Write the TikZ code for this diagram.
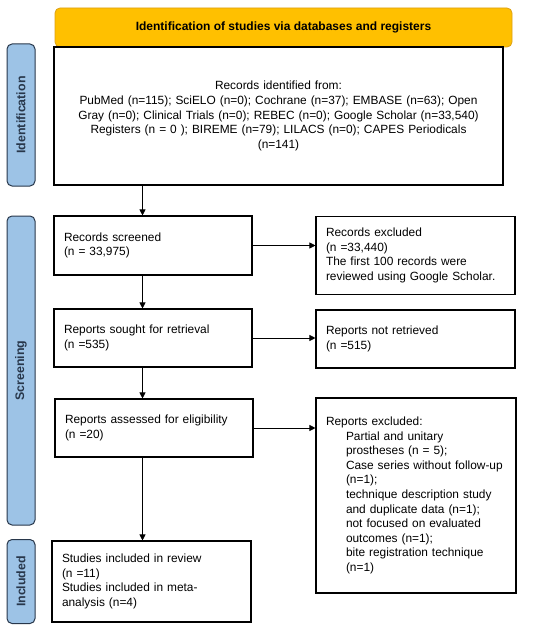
\documentclass[tikz,border=0pt]{standalone}
\usepackage{fontspec}
\setmainfont{Liberation Sans}
\usetikzlibrary{arrows.meta}
\definecolor{bannerfill}{RGB}{255,192,0}
\definecolor{bannerline}{RGB}{220,160,20}
\definecolor{barfill}{RGB}{157,195,230}
\definecolor{barline}{RGB}{40,55,75}
\tikzset{
  box/.style={shape=rectangle,draw,line width=1.1pt,align=left,inner sep=0pt,
    font=\fontsize{11.9}{14.6}\selectfont},
  bar/.style={shape=rectangle,rounded corners=5pt,draw=barline,fill=barfill,
    line width=1pt,rotate=90,minimum height=28pt,inner sep=0pt,
    text=barline,font=\fontsize{12.4}{13}\selectfont\bfseries},
}
\begin{document}
\begin{tikzpicture}[x=1pt,y=-1pt,>={Triangle[length=6pt,width=6pt]}]
\useasboundingbox (0,0) rectangle (550,631);
% heading and side bars
\path (283.5,27.5) node (head) [shape=rectangle,rounded corners=5pt,draw=bannerline,fill=bannerfill,line width=0.8pt,minimum width=457pt,minimum height=39pt,font=\fontsize{12}{13}\selectfont\bfseries] {Identification of studies via databases and registers};
\path (21,115) node (idbar) [bar,minimum width=142pt] {Identification};
\path (21,370.5) node (scbar) [bar,minimum width=309pt] {Screening};
\path (21,581.5) node (inbar) [bar,minimum width=84pt] {Included};
\coordinate (arrx) at (142.5,0);
% left column
\path (278.5,116) node (ident) [box,minimum width=449pt,minimum height=138pt,text width=449pt,align=center] {Records identified from:\\
PubMed (n=115); SciELO (n=0); Cochrane (n=37); EMBASE (n=63); Open\\
Gray (n=0); Clinical Trials (n=0); REBEC (n=0); Google Scholar (n=33,540)\\
Registers (n = 0 ); BIREME (n=79); LILACS (n=0); CAPES Periodicals\\
(n=141)};
\path (153,245.5) node (screen) [box,minimum width=198pt,minimum height=59pt,text width=178pt] {Records screened\\(n = 33,975)};
\path (153,338) node (sought) [box,minimum width=198pt,minimum height=58pt,text width=178pt] {Reports sought for retrieval\\(n =535)};
\path (154,428) node (assess) [box,minimum width=198pt,minimum height=58pt,text width=178pt] {Reports assessed for eligibility\\(n =20)};
\path (151.5,581.5) node (incl) [box,minimum width=199pt,minimum height=81pt,text width=179pt] {Studies included in review\\(n =11)\\Studies included in meta-\\analysis (n=4)};
% right column
\path (415.5,255.5) node (excl) [box,minimum width=199pt,minimum height=78pt,text width=179pt] {Records excluded\\(n =33,440)\\The first 100 records were\\reviewed using Google Scholar.};
\path (415.5,339) node (notret) [box,minimum width=199pt,minimum height=58pt,text width=179pt] {Reports not retrieved\\(n =515)};
\path (416,495.5) node (repexcl) [box,minimum width=200pt,minimum height=195pt,text width=180pt] {Reports excluded:\\
\hspace*{20pt}Partial and unitary\\
\hspace*{20pt}prostheses (n = 5);\\
\hspace*{20pt}Case series without follow-up\\
\hspace*{20pt}(n=1);\\
\hspace*{20pt}technique description study\\
\hspace*{20pt}and duplicate data (n=1);\\
\hspace*{20pt}not focused on evaluated\\
\hspace*{20pt}outcomes (n=1);\\
\hspace*{20pt}bite registration technique\\
\hspace*{20pt}(n=1)};

\draw [->,line width=0.8pt] (ident.south -| arrx) to (screen.north -| arrx);
\draw [->,line width=0.8pt] (screen.south -| arrx) to (sought.north -| arrx);
\draw [->,line width=0.8pt] (sought.south -| arrx) to (assess.north -| arrx);
\draw [->,line width=0.8pt] (assess.south -| arrx) to (incl.north -| arrx);
\draw [->,line width=0.8pt] (screen.east) to (screen.east -| excl.west);
\draw [->,line width=0.8pt] (sought.east) to (sought.east -| notret.west);
\draw [->,line width=0.8pt] (assess.east) to (assess.east -| repexcl.west);
\end{tikzpicture}
\end{document}
